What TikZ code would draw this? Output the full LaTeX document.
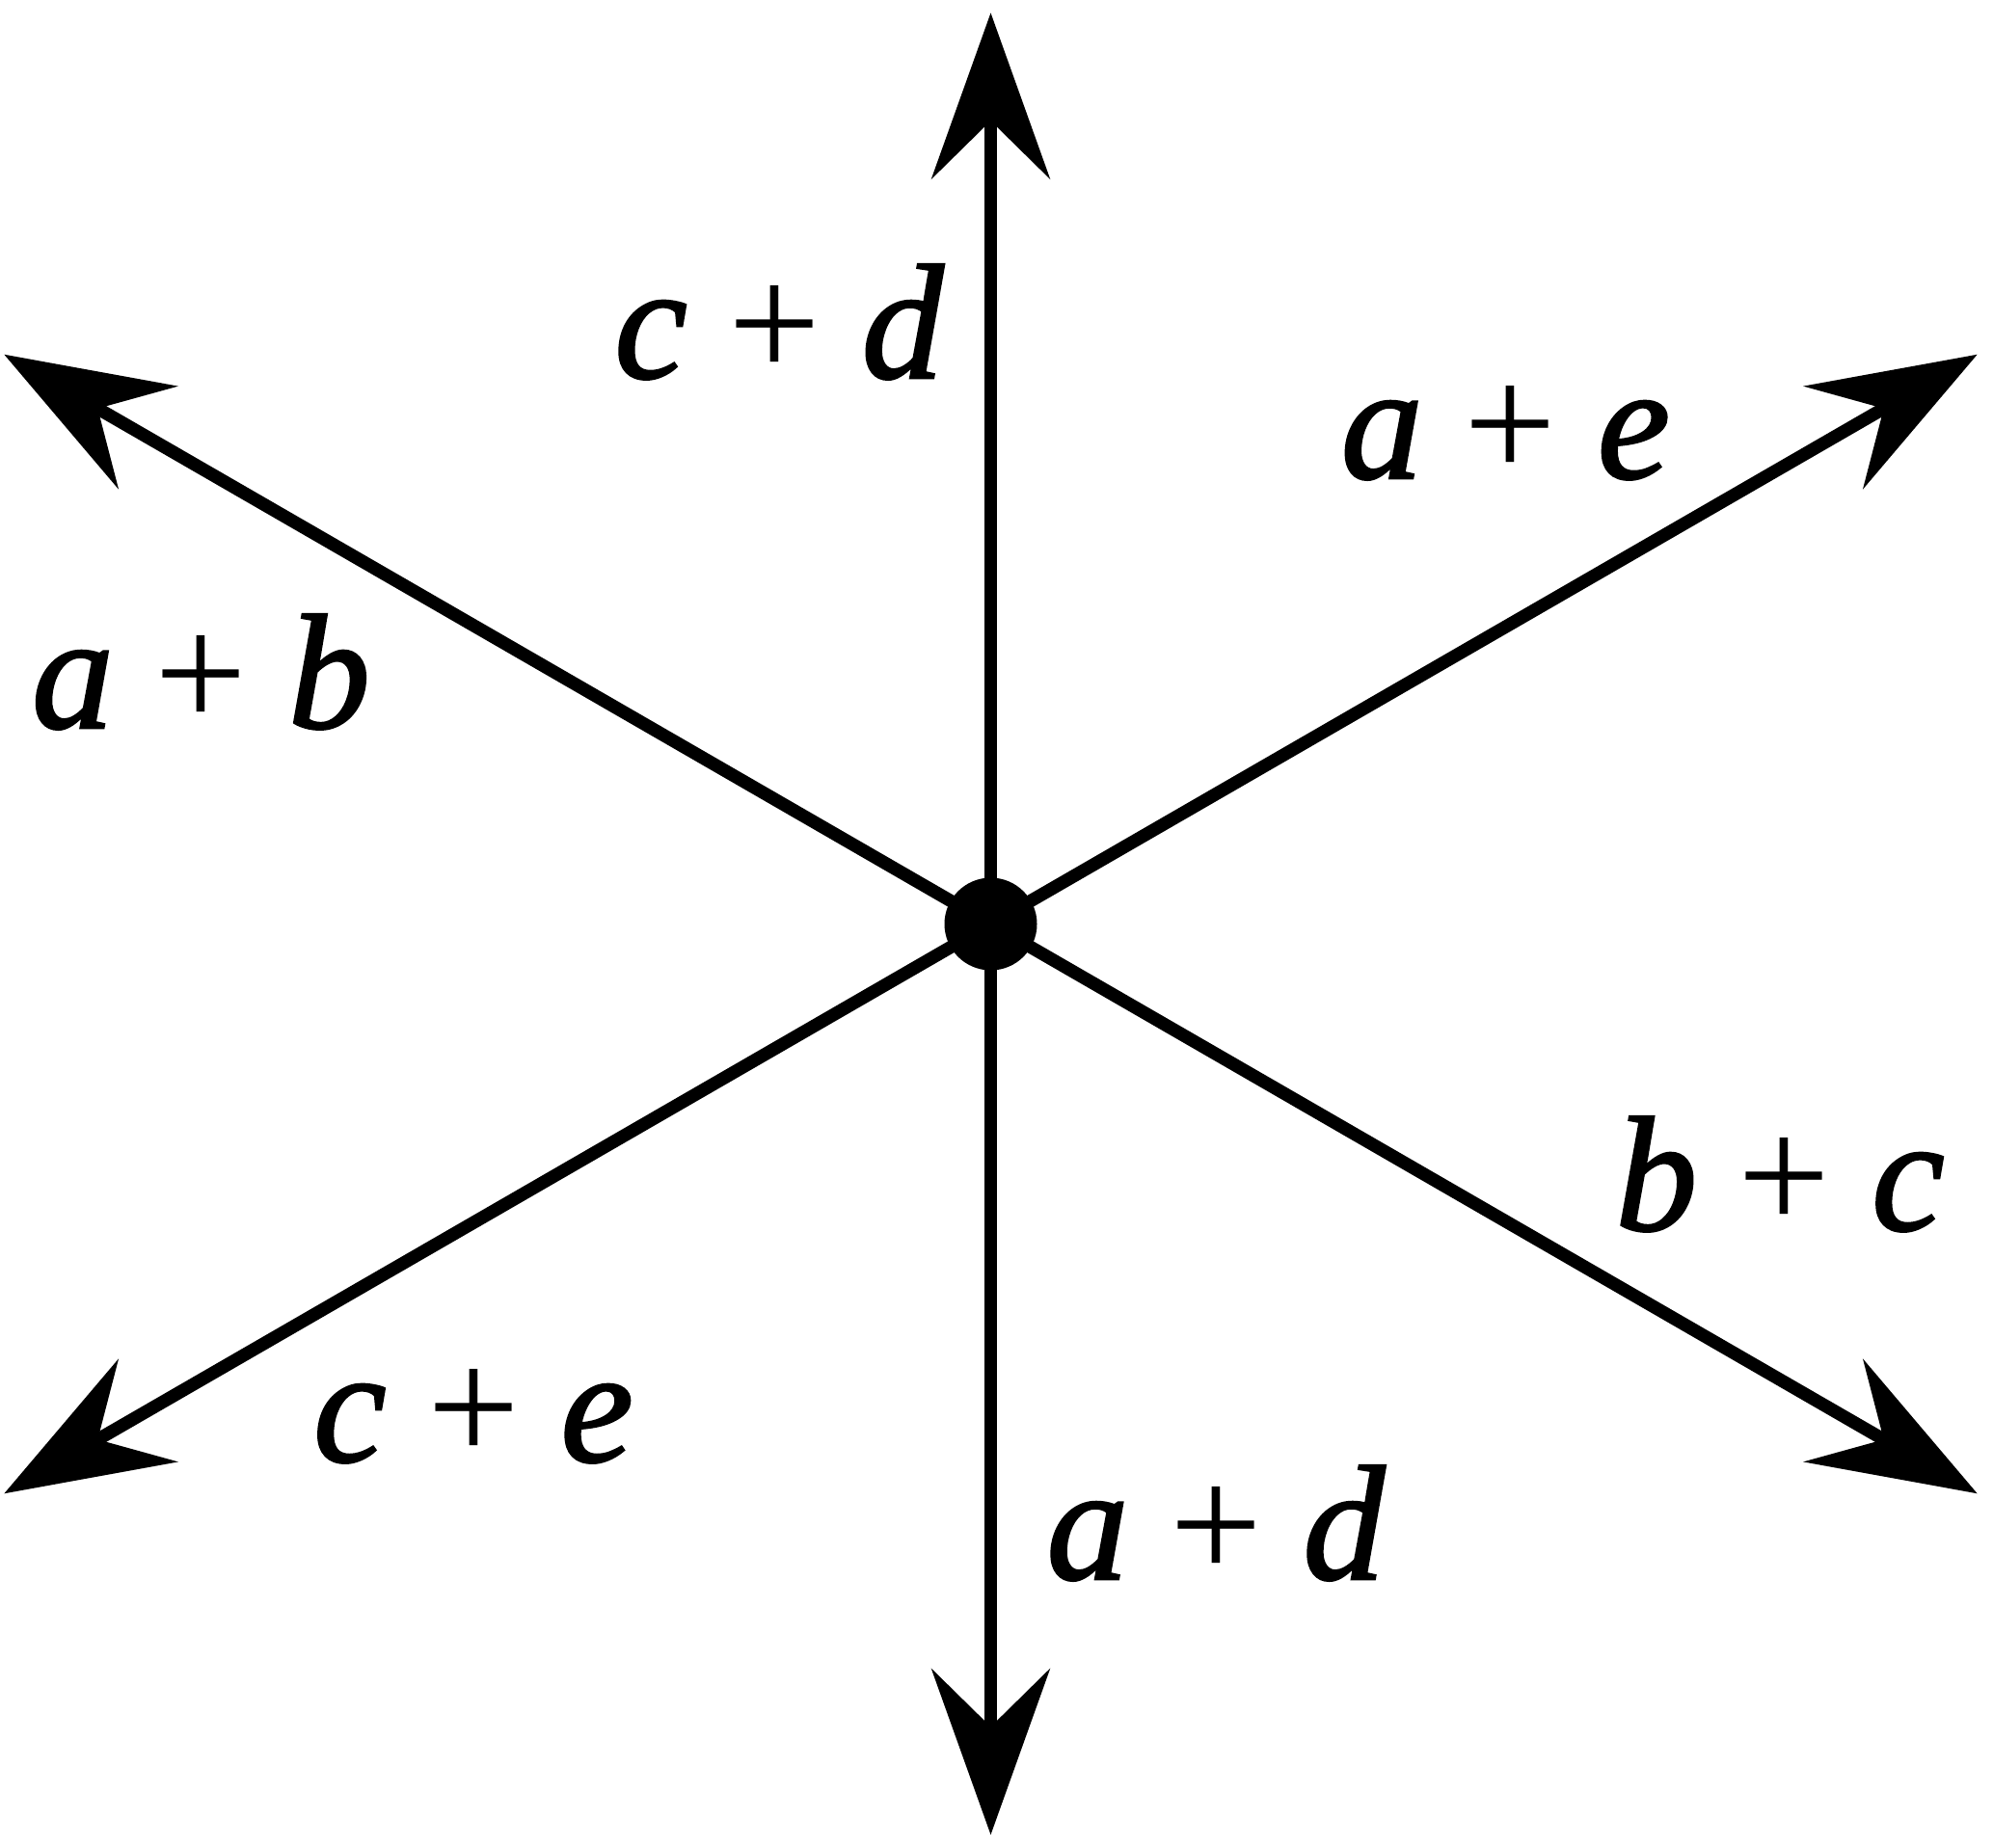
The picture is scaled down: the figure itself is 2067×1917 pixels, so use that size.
\documentclass[tikz,border=0pt]{standalone}
\usepackage{fontspec}
\setmainfont{Liberation Serif}
\newfontfamily\lblfont{Liberation Serif Italic}[FakeBold=1.5]
\usetikzlibrary{arrows.meta}
\begin{document}
\begin{tikzpicture}[x=1pt,y=-1pt,
  ray/.style={line width=13.3pt, -{Stealth[length=172pt,width=122.6pt,inset=60pt]}},
  lbl/.style={anchor=base, inner sep=0pt, font=\fontsize{170}{200}\selectfont}]
\useasboundingbox (0,0) rectangle (2067,1917);
\coordinate (o) at (1027.5,958.5);
\coordinate (n) at (1027.5,13.3);
\coordinate (s) at (1027.5,1903.3);
\coordinate (ne) at (2050.7,367.7);
\coordinate (nw) at (4.3,367.7);
\coordinate (se) at (2050.7,1549.3);
\coordinate (sw) at (4.3,1549.3);
\foreach \t in {n,s,ne,nw,se,sw} \draw[ray] (o) -- (\t);
\node[circle, fill=black, minimum size=96pt, inner sep=0pt] (dot) at (o) {};
\node[lbl] (cd) at (808,392) {{\lblfont c} + {\lblfont d}};
\node[lbl] (ae) at (1561.5,496) {{\lblfont a} + {\lblfont e}};
\node[lbl] (ab) at (208.5,755) {{\lblfont a} + {\lblfont b}};
\node[lbl] (bc) at (1846,1276) {{\lblfont b} + {\lblfont c}};
\node[lbl] (ce) at (491,1516) {{\lblfont c} + {\lblfont e}};
\node[lbl] (ad) at (1261,1638) {{\lblfont a} + {\lblfont d}};
\end{tikzpicture}
\end{document}
